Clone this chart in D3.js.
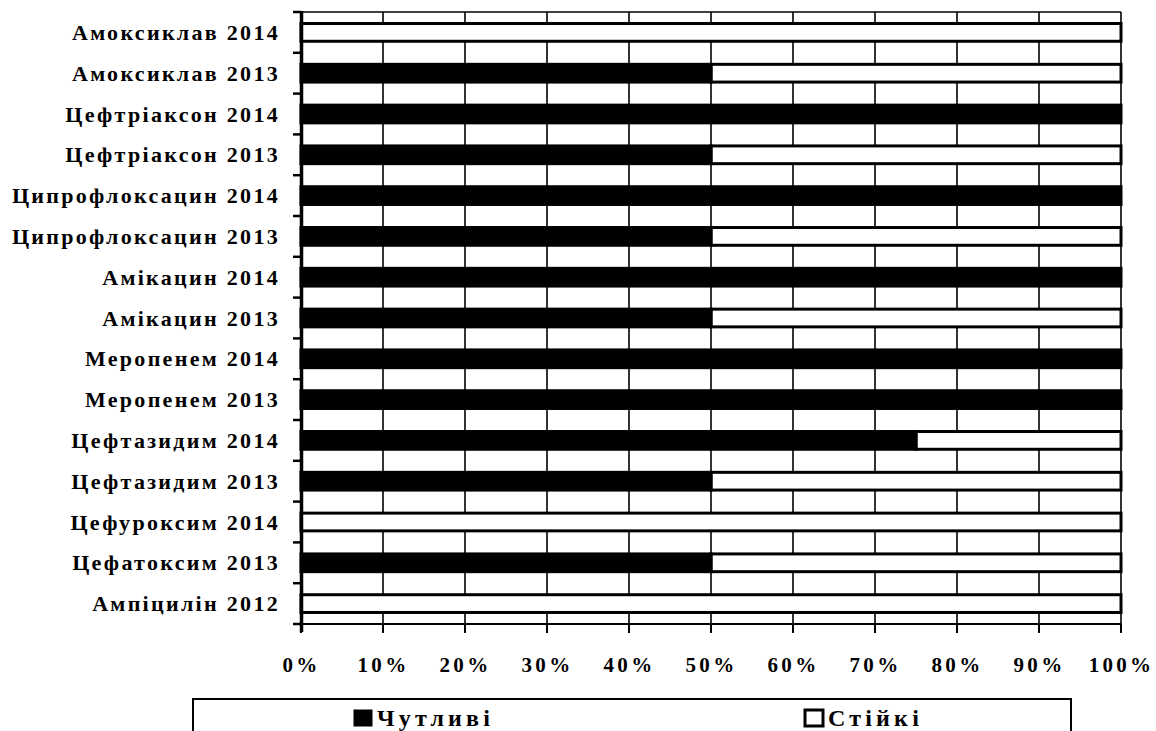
<!DOCTYPE html>
<html>
<head>
<meta charset="utf-8">
<script src="https://cdn.jsdelivr.net/npm/d3@7/dist/d3.min.js"></script>
<style>
  html, body { margin: 0; padding: 0; background: #fff; }
  svg { display: block; }
  text { font-family: "Liberation Serif", "Times New Roman", serif; font-weight: bold; fill: #000; }
</style>
</head>
<body>
<svg id="chart" width="1156" height="731"></svg>
<script>
// Antibiotics, listed top to bottom
const categories = [
  "Амоксиклав 2014", "Амоксиклав 2013",
  "Цефтріаксон 2014", "Цефтріаксон 2013",
  "Ципрофлоксацин 2014", "Ципрофлоксацин 2013",
  "Амікацин 2014", "Амікацин 2013",
  "Меропенем 2014", "Меропенем 2013",
  "Цефтазидим 2014", "Цефтазидим 2013",
  "Цефуроксим 2014", "Цефатоксим 2013",
  "Ампіцилін 2012"
];
// Share of susceptible strains, %
const sensitive = [0, 50, 100, 50, 100, 50, 100, 50, 100, 100, 75, 50, 0, 50, 0];
// Share of resistant strains, %
const resistant = [100, 50, 0, 50, 0, 50, 0, 50, 0, 0, 25, 50, 100, 50, 100];
const seriesNames = ["Чутливі", "Стійкі"];
const xTicks = [0, 10, 20, 30, 40, 50, 60, 70, 80, 90, 100];

const svg = d3.select("#chart");
const plotLeft = 301, plotRight = 1121, plotTop = 12, plotBottom = 624;

const x = d3.scaleLinear().domain([0, 100]).range([plotLeft, plotRight]);
const y = d3.scaleBand().domain(categories).range([plotTop, plotBottom])
  .paddingInner(0.565).paddingOuter(0.2825);
const step = y.step();

// vertical grid lines
svg.append("g").selectAll("line").data(xTicks.slice(1)).join("line")
  .attr("x1", d => x(d)).attr("x2", d => x(d))
  .attr("y1", plotTop).attr("y2", plotBottom)
  .attr("stroke", "#000").attr("stroke-width", 1.6);
// top border of the plot area
svg.append("line").attr("x1", plotLeft).attr("x2", plotRight).attr("y1", plotTop).attr("y2", plotTop)
  .attr("stroke", "#000").attr("stroke-width", 1.6);

// stacked bars
const rows = categories.map((c, i) => ({ c, s: sensitive[i], r: resistant[i] }));
const g = svg.append("g");
g.selectAll("rect.res").data(rows).join("rect").attr("class", "res")
  .attr("x", d => x(d.s)).attr("width", d => x(d.s + d.r) - x(d.s))
  .attr("y", d => y(d.c)).attr("height", y.bandwidth())
  .attr("fill", "#fff").attr("stroke", "#000").attr("stroke-width", 3);
g.selectAll("rect.sen").data(rows.filter(d => d.s > 0)).join("rect").attr("class", "sen")
  .attr("x", x(0)).attr("width", d => x(d.s) - x(0))
  .attr("y", d => y(d.c)).attr("height", y.bandwidth())
  .attr("fill", "#000").attr("stroke", "#000").attr("stroke-width", 3);

// x axis
svg.append("line").attr("x1", plotLeft - 8).attr("x2", plotRight).attr("y1", plotBottom).attr("y2", plotBottom)
  .attr("stroke", "#000").attr("stroke-width", 2);
svg.append("g").selectAll("line").data(xTicks).join("line")
  .attr("x1", d => x(d)).attr("x2", d => x(d))
  .attr("y1", plotBottom).attr("y2", plotBottom + 9)
  .attr("stroke", "#000").attr("stroke-width", 2);
svg.append("g").selectAll("text").data(xTicks).join("text")
  .attr("x", d => x(d) + 0.5).attr("y", 672)
  .attr("text-anchor", "middle")
  .style("font-size", "21px").style("letter-spacing", "3.3px")
  .text(d => d + "%");

// y axis
const yTickPos = d3.range(categories.length + 1).map(i => plotTop + i * step);
svg.append("line").attr("x1", plotLeft + 0.5).attr("x2", plotLeft + 0.5).attr("y1", plotTop - 1).attr("y2", plotBottom + 8)
  .attr("stroke", "#000").attr("stroke-width", 3.5);
svg.append("g").selectAll("line").data(yTickPos).join("line")
  .attr("x1", plotLeft - 8).attr("x2", plotLeft).attr("y1", d => d).attr("y2", d => d)
  .attr("stroke", "#000").attr("stroke-width", 2.5);
svg.append("g").selectAll("text").data(categories).join("text")
  .attr("x", 280).attr("y", d => y(d) + y.bandwidth() / 2 + 7.5)
  .attr("text-anchor", "end")
  .style("font-size", "22px").style("letter-spacing", "2.3px")
  .text(d => d);

// legend
const lg = svg.append("g");
lg.append("rect").attr("x", 193).attr("y", 699).attr("width", 878).attr("height", 60)
  .attr("fill", "none").attr("stroke", "#000").attr("stroke-width", 2);
const legendX = [353, 804];
const items = lg.selectAll("g.item").data(seriesNames).join("g").attr("class", "item")
  .attr("transform", (d, i) => `translate(${legendX[i]},0)`);
items.append("rect").attr("x", 1).attr("y", 710).attr("width", 18).attr("height", 16)
  .attr("fill", (d, i) => i === 0 ? "#000" : "#fff")
  .attr("stroke", "#000").attr("stroke-width", (d, i) => i === 0 ? 1 : 3);
items.append("text").attr("x", 24).attr("y", 726)
  .style("font-size", "24px").style("letter-spacing", "4.2px")
  .text(d => d);
</script>
</body>
</html>
